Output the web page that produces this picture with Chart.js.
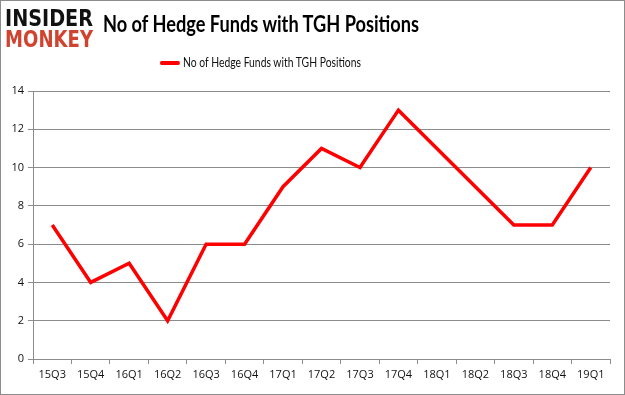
<!DOCTYPE html>
<html>
<head>
<meta charset="utf-8">
<script src="https://cdn.jsdelivr.net/npm/chart.js@4"></script>
<style>
  body { margin: 0; background: #fff; }
  #wrap { position: relative; width: 625px; height: 395px; }
  #frame { position: absolute; left: 0; top: 0; width: 623px; height: 393px; border: 1px solid #8c8c8c; pointer-events: none; }
  canvas { position: absolute; left: 0; top: 0; }
  .fit { position: absolute; white-space: nowrap; transform-origin: 0 0; }
  #logo1 { left: 5px; top: 5px; font-family: "DejaVu Sans", sans-serif; font-weight: bold; font-size: 23px; color: #111; }
  #logo2 { left: 5px; top: 26px; font-family: "DejaVu Sans", sans-serif; font-weight: bold; font-size: 23px; color: #d0432f; }
  #title { left: 103px; top: 10px; font-family: "Lato", sans-serif; font-weight: bold; font-size: 22px; color: #000; }
  #legend { left: 160px; top: 54px; font-family: "Lato", sans-serif; font-size: 13px; color: #111; }
  #legend span.sw { display: inline-block; width: 25px; height: 4px; background: #ff0000; border-radius: 2px; vertical-align: middle; margin-right: 4px; position: relative; top: -1px; }
</style>
</head>
<body>
<div id="wrap">
  <canvas id="chart" width="625" height="395"></canvas>
  <div id="logo1" class="fit" data-w="88">INSIDER</div>
  <div id="logo2" class="fit" data-w="88">MONKEY</div>
  <div id="title" class="fit" data-w="316">No of Hedge Funds with TGH Positions</div>
  <div id="legend" class="fit" data-w="201"><span class="sw"></span>No of Hedge Funds with TGH Positions</div>
  <div id="frame"></div>
</div>
<script>
const quarters = ["15Q3", "15Q4", "16Q1", "16Q2", "16Q3", "16Q4", "17Q1", "17Q2",
    "17Q3", "17Q4", "18Q1", "18Q2", "18Q3", "18Q4", "19Q1"];
const fundCounts = [7, 4, 5, 2, 6, 6, 9, 11, 10, 13, 11, 9, 7, 7, 10];
const seriesName = "No of Hedge Funds with TGH Positions";

// squeeze the header texts to the widths seen in the picture
document.querySelectorAll(".fit").forEach(el => {
    const w = el.getBoundingClientRect().width;
    el.style.transform = "scaleX(" + (el.dataset.w / w) + ")";
});

const tickFont = { size: 11, family: "'Open Sans', sans-serif" };

const ctx = document.getElementById("chart").getContext("2d");
new Chart(ctx, {
    type: "line",
    data: {
        labels: quarters,
        datasets: [{
            label: seriesName,
            data: fundCounts,
            borderColor: "#ff0000",
            borderWidth: 3.5,
            pointRadius: 0,
            tension: 0,
            fill: false
        }]
    },
    options: {
        responsive: false,
        animation: false,
        layout: { padding: { top: 91, right: 15, bottom: 0, left: 0 } },
        plugins: {
            legend: { display: false },
            title: { display: false },
            tooltip: { enabled: false }
        },
        scales: {
            x: {
                offset: true,
                grid: {
                    offset: true,
                    drawOnChartArea: false,
                    drawTicks: true,
                    tickLength: 5,
                    color: "#8c8c8c"
                },
                border: { color: "#8c8c8c" },
                ticks: { color: "#111", font: tickFont, maxRotation: 0, autoSkip: false, padding: 4 },
                afterFit: scale => { scale.height = 36; }
            },
            y: {
                min: 0,
                max: 14,
                ticks: { stepSize: 2, color: "#111", font: tickFont, padding: 4 },
                grid: { color: "#8c8c8c", tickLength: 5 },
                border: { color: "#8c8c8c" },
                afterFit: scale => { scale.width = 33; }
            }
        }
    }
});
</script>
</body>
</html>
